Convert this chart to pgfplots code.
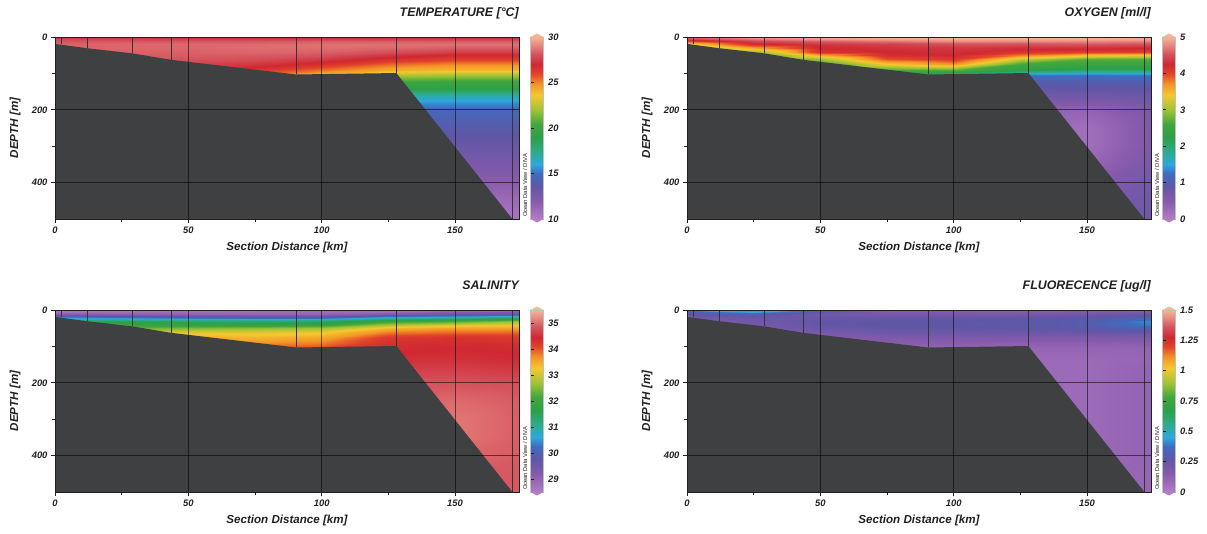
\documentclass[border=0pt]{standalone}
\usepackage{fontspec}
\setmainfont{Liberation Sans}
\usepackage{pgfplots}
\pgfplotsset{compat=1.18}
\pgfkeys{/pgf/number format/assume math mode=true}
\definecolor{bathy}{RGB}{63,64,66}
\definecolor{txt}{RGB}{35,31,32}
\definecolor{odvtop}{RGB}{246,182,146}
\definecolor{odvbot}{RGB}{178,125,198}
\pgfplotsset{
 colormap={odv}{rgb255(0pt)=(178,125,198) rgb255(10pt)=(135,90,172) rgb255(18pt)=(96,86,166) rgb255(25pt)=(62,108,192) rgb255(30pt)=(44,168,222) rgb255(37pt)=(44,172,140) rgb255(45pt)=(44,160,72) rgb255(52pt)=(64,166,62) rgb255(60pt)=(160,195,52) rgb255(68pt)=(244,200,48) rgb255(74pt)=(244,150,38) rgb255(80pt)=(226,66,42) rgb255(85pt)=(208,40,50) rgb255(91pt)=(214,86,96) rgb255(96pt)=(234,140,130) rgb255(100pt)=(246,182,146)},
 odv/.style={
  scale only axis, width=464pt, height=182pt, anchor=north west,
  xmin=0, xmax=174, ymin=0, ymax=500, y dir=reverse,
  xtick={0,50,100,150}, ytick={0,200,400},
  minor xtick={25,75,125}, minor ytick={100,300},
  xtick pos=bottom, ytick pos=left, tick align=outside,
  major tick length=4pt, minor tick length=3pt,
  tick style={txt, line width=0.6pt},
  grid=major, major grid style={black, opacity=0.55, line width=0.6pt},
  axis on top,
  axis line style={txt, line width=0.9pt},
  ticklabel style={font=\fontsize{9.4}{10}\selectfont\bfseries\itshape, text=txt},
  xlabel={Section Distance [km]}, ylabel={DEPTH [m]},
  label style={font=\fontsize{11.6}{13}\selectfont\bfseries\itshape, text=txt},
  xlabel style={at={(axis description cs:0.5,-0.159)}, anchor=center},
  ylabel style={at={(axis description cs:-0.086,0.5)}, anchor=center},
  title style={at={(axis description cs:1,1.077)}, anchor=base east, font=\fontsize{12.4}{14}\selectfont\bfseries\itshape, text=txt, inner sep=0pt},
  colormap name=odv, colorbar,
  colorbar style={
   at={(parent axis.north east)}, anchor=north west, xshift=3pt,
   scale only axis, width=13pt, height=182pt,
   xlabel={}, ylabel={}, title={}, grid=none, minor ytick={},
   axis on top,
   axis line style={black!25, line width=0.4pt},
   ytick pos=left, yticklabel pos=right,
   tick align=inside, major tick length=3.5pt, tick style={txt, line width=0.7pt},
   yticklabel style={font=\fontsize{9.4}{10}\selectfont\bfseries\itshape, text=txt, xshift=1pt},
   extra description/.code={
     \fill[odvtop] (0,1) -- (1,1) -- ++(-6.5pt,3.5pt) -- cycle;
     \fill[odvbot] (0,0) -- (1,0) -- ++(-6.5pt,-3.5pt) -- cycle;
   },
  },
  extra description/.code={\node[rotate=90, anchor=west, inner sep=0pt, font=\fontsize{5.8}{6}\selectfont, text=txt] at (1.013,0.01) {Ocean Data View / DIVA};},
 },
 field/.style={surf, shader=interp, point meta=explicit, mesh/cols=8, mesh/rows=22},
}
\newcommand{\bathy}{%
 \addplot[fill=bathy, draw=none] coordinates {(0,19) (12.2,31) (29,45) (43.8,63) (90.5,103) (128,99) (171.5,500) (171.5,505) (-1,505) (-1,19)} -- cycle;
 \addplot[ycomb, draw=bathy!80!black, line width=0.7pt, mark=none] coordinates {(2.2,20) (12.2,31) (29,45) (43.8,63) (90.5,103) (128,99) (171.5,500)};
}
\begin{document}
\begin{tikzpicture}
\path[use as bounding box] (0,0) rectangle (1207pt,534pt);
% ---------------- TEMPERATURE
\begin{axis}[odv, at={(55pt,497pt)}, title={TEMPERATURE [°C]},
  point meta min=10, point meta max=30, colorbar style={ytick={10,15,20,25,30}}]
\addplot[field] coordinates {
(0,0)[27.2] (25,0)[27.1] (50,0)[27.0] (75,0)[27.0] (100,0)[27.0] (125,0)[27.0] (150,0)[27.0] (175,0)[27.0]
(0,5)[27.8] (25,5)[27.7] (50,5)[27.6] (75,5)[27.6] (100,5)[27.6] (125,5)[27.6] (150,5)[27.6] (175,5)[27.6]
(0,10)[28.2] (25,10)[28.2] (50,10)[28.2] (75,10)[28.2] (100,10)[28.3] (125,10)[28.3] (150,10)[28.3] (175,10)[28.3]
(0,20)[28.4] (25,20)[28.5] (50,20)[28.5] (75,20)[28.6] (100,20)[28.7] (125,20)[28.7] (150,20)[28.7] (175,20)[28.7]
(0,30)[28.4] (25,30)[28.5] (50,30)[28.5] (75,30)[28.6] (100,30)[28.6] (125,30)[28.5] (150,30)[28.3] (175,30)[28.3]
(0,40)[28.3] (25,40)[28.4] (50,40)[28.4] (75,40)[28.5] (100,40)[28.4] (125,40)[28.0] (150,40)[27.6] (175,40)[27.6]
(0,50)[28.2] (25,50)[28.3] (50,50)[28.3] (75,50)[28.3] (100,50)[28.1] (125,50)[27.4] (150,50)[26.9] (175,50)[26.9]
(0,60)[28.1] (25,60)[28.2] (50,60)[28.1] (75,60)[28.0] (100,60)[27.5] (125,60)[26.7] (150,60)[26.2] (175,60)[26.2]
(0,75)[27.9] (25,75)[27.9] (50,75)[27.7] (75,75)[27.4] (100,75)[26.7] (125,75)[25.5] (150,75)[25.0] (175,75)[25.0]
(0,90)[27.6] (25,90)[27.5] (50,90)[27.2] (75,90)[26.5] (100,90)[25.3] (125,90)[24.3] (150,90)[24.0] (175,90)[24.0]
(0,105)[27.3] (25,105)[27.1] (50,105)[26.7] (75,105)[25.5] (100,105)[24.0] (125,105)[22.3] (150,105)[22.1] (175,105)[22.1]
(0,120)[27.0] (25,120)[26.6] (50,120)[26.0] (75,120)[24.5] (100,120)[22.5] (125,120)[20.5] (150,120)[20.3] (175,120)[20.3]
(0,140)[26.4] (25,140)[25.8] (50,140)[25.0] (75,140)[23.4] (100,140)[21.0] (125,140)[19.2] (150,140)[19.2] (175,140)[19.2]
(0,160)[25.6] (25,160)[24.8] (50,160)[23.8] (75,160)[22.0] (100,160)[19.0] (125,160)[17.0] (150,160)[17.0] (175,160)[17.0]
(0,180)[24.6] (25,180)[23.6] (50,180)[22.4] (75,180)[20.4] (100,180)[17.0] (125,180)[15.6] (150,180)[15.6] (175,180)[15.6]
(0,200)[23.4] (25,200)[22.2] (50,200)[20.8] (75,200)[18.6] (100,200)[15.4] (125,200)[14.7] (150,200)[14.7] (175,200)[14.7]
(0,250)[20.0] (25,250)[18.6] (50,250)[17.0] (75,250)[15.4] (100,250)[14.0] (125,250)[13.9] (150,250)[13.9] (175,250)[13.9]
(0,300)[16.0] (25,300)[15.0] (50,300)[14.2] (75,300)[13.6] (100,300)[13.3] (125,300)[13.2] (150,300)[13.2] (175,300)[13.2]
(0,350)[13.4] (25,350)[13.0] (50,350)[12.8] (75,350)[12.6] (100,350)[12.5] (125,350)[12.5] (150,350)[12.5] (175,350)[12.5]
(0,400)[12.0] (25,400)[11.9] (50,400)[11.8] (75,400)[11.8] (100,400)[11.8] (125,400)[11.8] (150,400)[11.8] (175,400)[11.8]
(0,450)[11.0] (25,450)[11.0] (50,450)[11.0] (75,450)[11.0] (100,450)[11.0] (125,450)[11.0] (150,450)[11.0] (175,450)[11.0]
(0,500)[10.5] (25,500)[10.5] (50,500)[10.5] (75,500)[10.5] (100,500)[10.5] (125,500)[10.5] (150,500)[10.5] (175,500)[10.5]
};
\bathy
\end{axis}
% ---------------- OXYGEN
\begin{axis}[odv, at={(687pt,497pt)}, title={OXYGEN [ml/l]},
  point meta min=0, point meta max=5, colorbar style={ytick={0,1,2,3,4,5}}]
\addplot[field] coordinates {
(0,0)[4.7] (25,0)[4.9] (50,0)[4.95] (75,0)[5.0] (100,0)[5.0] (125,0)[5.0] (150,0)[5.0] (175,0)[4.95]
(0,5)[4.4] (25,5)[4.7] (50,5)[4.85] (75,5)[4.9] (100,5)[4.95] (125,5)[4.95] (150,5)[4.95] (175,5)[4.9]
(0,10)[4.0] (25,10)[4.45] (50,10)[4.6] (75,10)[4.7] (100,10)[4.8] (125,10)[4.8] (150,10)[4.8] (175,10)[4.75]
(0,20)[3.3] (25,20)[4.2] (50,20)[4.35] (75,20)[4.4] (100,20)[4.5] (125,20)[4.5] (150,20)[4.55] (175,20)[4.5]
(0,30)[2.8] (25,30)[3.6] (50,30)[4.25] (75,30)[4.3] (100,30)[4.35] (125,30)[4.3] (150,30)[4.3] (175,30)[4.25]
(0,40)[2.5] (25,40)[2.9] (50,40)[4.15] (75,40)[4.25] (100,40)[4.3] (125,40)[4.1] (150,40)[4.05] (175,40)[4.0]
(0,50)[2.4] (25,50)[2.5] (50,50)[3.6] (75,50)[4.2] (100,50)[4.25] (125,50)[3.8] (150,50)[3.5] (175,50)[3.4]
(0,60)[2.3] (25,60)[2.4] (50,60)[3.0] (75,60)[3.95] (100,60)[4.1] (125,60)[3.2] (150,60)[2.7] (175,60)[2.7]
(0,75)[2.2] (25,75)[2.3] (50,75)[2.5] (75,75)[3.4] (100,75)[3.7] (125,75)[2.6] (150,75)[2.5] (175,75)[2.5]
(0,90)[2.0] (25,90)[2.1] (50,90)[2.3] (75,90)[2.6] (100,90)[2.7] (125,90)[2.3] (150,90)[2.1] (175,90)[2.1]
(0,105)[1.5] (25,105)[1.5] (50,105)[1.5] (75,105)[2.0] (100,105)[1.7] (125,105)[1.3] (150,105)[1.25] (175,105)[1.3]
(0,120)[1.0] (25,120)[1.0] (50,120)[1.0] (75,120)[1.1] (100,120)[1.1] (125,120)[1.0] (150,120)[1.05] (175,120)[1.05]
(0,140)[0.8] (25,140)[0.8] (50,140)[0.8] (75,140)[0.85] (100,140)[0.9] (125,140)[0.85] (150,140)[0.9] (175,140)[0.9]
(0,160)[0.7] (25,160)[0.7] (50,160)[0.7] (75,160)[0.7] (100,160)[0.75] (125,160)[0.7] (150,160)[0.75] (175,160)[0.8]
(0,180)[0.6] (25,180)[0.6] (50,180)[0.6] (75,180)[0.6] (100,180)[0.6] (125,180)[0.55] (150,180)[0.55] (175,180)[0.7]
(0,200)[0.5] (25,200)[0.5] (50,200)[0.5] (75,200)[0.5] (100,200)[0.5] (125,200)[0.4] (150,200)[0.35] (175,200)[0.65]
(0,250)[0.4] (25,250)[0.4] (50,250)[0.4] (75,250)[0.4] (100,250)[0.4] (125,250)[0.25] (150,250)[0.2] (175,250)[0.6]
(0,300)[0.4] (25,300)[0.4] (50,300)[0.4] (75,300)[0.4] (100,300)[0.4] (125,300)[0.25] (150,300)[0.2] (175,300)[0.6]
(0,350)[0.45] (25,350)[0.45] (50,350)[0.45] (75,350)[0.45] (100,350)[0.45] (125,350)[0.35] (150,350)[0.3] (175,350)[0.65]
(0,400)[0.5] (25,400)[0.5] (50,400)[0.5] (75,400)[0.5] (100,400)[0.5] (125,400)[0.5] (150,400)[0.5] (175,400)[0.7]
(0,450)[0.55] (25,450)[0.55] (50,450)[0.55] (75,450)[0.55] (100,450)[0.55] (125,450)[0.55] (150,450)[0.6] (175,450)[0.75]
(0,500)[0.6] (25,500)[0.6] (50,500)[0.6] (75,500)[0.6] (100,500)[0.6] (125,500)[0.6] (150,500)[0.65] (175,500)[0.75]
};
\bathy
\end{axis}
% ---------------- SALINITY
\begin{axis}[odv, at={(55pt,224pt)}, title={SALINITY},
  point meta min=28.5, point meta max=35.5, colorbar style={ytick={29,30,31,32,33,34,35}}]
\addplot[field] coordinates {
(0,0)[28.7] (25,0)[28.7] (50,0)[28.75] (75,0)[28.75] (100,0)[28.8] (125,0)[28.8] (150,0)[28.9] (175,0)[28.9]
(0,5)[28.8] (25,5)[28.8] (50,5)[28.85] (75,5)[28.85] (100,5)[28.85] (125,5)[28.9] (150,5)[29.2] (175,5)[29.3]
(0,10)[29.2] (25,10)[29.1] (50,10)[29.0] (75,10)[29.0] (100,10)[29.0] (125,10)[29.3] (150,10)[29.6] (175,10)[29.8]
(0,20)[30.4] (25,20)[30.2] (50,20)[30.0] (75,20)[29.9] (100,20)[29.9] (125,20)[30.6] (150,20)[30.8] (175,20)[31.2]
(0,30)[31.5] (25,30)[31.5] (50,30)[31.4] (75,30)[31.3] (100,30)[31.4] (125,30)[32.0] (150,30)[32.2] (175,30)[32.6]
(0,40)[32.0] (25,40)[32.0] (50,40)[31.9] (75,40)[31.9] (100,40)[32.0] (125,40)[32.8] (150,40)[33.1] (175,40)[33.2]
(0,50)[32.5] (25,50)[32.4] (50,50)[32.5] (75,50)[32.6] (100,50)[32.7] (125,50)[33.4] (150,50)[33.6] (175,50)[33.6]
(0,60)[33.0] (25,60)[32.9] (50,60)[33.1] (75,60)[33.1] (100,60)[33.2] (125,60)[33.8] (150,60)[33.9] (175,60)[33.9]
(0,75)[33.4] (25,75)[33.3] (50,75)[33.5] (75,75)[33.4] (100,75)[33.5] (125,75)[34.2] (150,75)[34.3] (175,75)[34.2]
(0,90)[33.8] (25,90)[33.7] (50,90)[33.8] (75,90)[33.7] (100,90)[33.8] (125,90)[34.35] (150,90)[34.4] (175,90)[34.35]
(0,105)[34.0] (25,105)[34.0] (50,105)[34.1] (75,105)[34.0] (100,105)[34.1] (125,105)[34.4] (150,105)[34.45] (175,105)[34.4]
(0,120)[34.2] (25,120)[34.2] (50,120)[34.3] (75,120)[34.3] (100,120)[34.3] (125,120)[34.45] (150,120)[34.5] (175,120)[34.45]
(0,140)[34.4] (25,140)[34.4] (50,140)[34.45] (75,140)[34.45] (100,140)[34.5] (125,140)[34.55] (150,140)[34.55] (175,140)[34.5]
(0,160)[34.5] (25,160)[34.5] (50,160)[34.55] (75,160)[34.6] (100,160)[34.6] (125,160)[34.65] (150,160)[34.65] (175,160)[34.6]
(0,180)[34.6] (25,180)[34.6] (50,180)[34.65] (75,180)[34.7] (100,180)[34.7] (125,180)[34.75] (150,180)[34.75] (175,180)[34.7]
(0,200)[34.7] (25,200)[34.7] (50,200)[34.75] (75,200)[34.8] (100,200)[34.8] (125,200)[34.85] (150,200)[34.85] (175,200)[34.8]
(0,250)[34.85] (25,250)[34.85] (50,250)[34.9] (75,250)[34.9] (100,250)[34.95] (125,250)[34.95] (150,250)[35.0] (175,250)[34.9]
(0,300)[34.9] (25,300)[34.9] (50,300)[34.95] (75,300)[34.95] (100,300)[35.0] (125,300)[35.0] (150,300)[35.08] (175,300)[34.92]
(0,350)[34.9] (25,350)[34.9] (50,350)[34.95] (75,350)[34.95] (100,350)[35.0] (125,350)[35.0] (150,350)[35.08] (175,350)[34.92]
(0,400)[34.9] (25,400)[34.9] (50,400)[34.9] (75,400)[34.9] (100,400)[34.95] (125,400)[34.95] (150,400)[35.0] (175,400)[34.9]
(0,450)[34.88] (25,450)[34.88] (50,450)[34.88] (75,450)[34.88] (100,450)[34.9] (125,450)[34.9] (150,450)[34.9] (175,450)[34.88]
(0,500)[34.88] (25,500)[34.88] (50,500)[34.88] (75,500)[34.88] (100,500)[34.88] (125,500)[34.88] (150,500)[34.88] (175,500)[34.88]
};
\bathy
\end{axis}
% ---------------- FLUORESCENCE
\begin{axis}[odv, at={(687pt,224pt)}, title={FLUORECENCE [ug/l]},
  point meta min=0, point meta max=1.5, colorbar style={ytick={0,0.25,0.5,0.75,1,1.25,1.5}}]
\addplot[field] coordinates {
(0,0)[0.35] (25,0)[0.65] (50,0)[0.35] (75,0)[0.17] (100,0)[0.16] (125,0)[0.16] (150,0)[0.16] (175,0)[0.16]
(0,5)[0.3] (25,5)[0.45] (50,5)[0.26] (75,5)[0.18] (100,5)[0.17] (125,5)[0.17] (150,5)[0.18] (175,5)[0.2]
(0,10)[0.27] (25,10)[0.3] (50,10)[0.22] (75,10)[0.2] (100,10)[0.2] (125,10)[0.2] (150,10)[0.22] (175,10)[0.25]
(0,20)[0.22] (25,20)[0.25] (50,20)[0.24] (75,20)[0.25] (100,20)[0.25] (125,20)[0.26] (150,20)[0.27] (175,20)[0.32]
(0,30)[0.18] (25,30)[0.22] (50,30)[0.26] (75,30)[0.27] (100,30)[0.27] (125,30)[0.28] (150,30)[0.3] (175,30)[0.42]
(0,40)[0.15] (25,40)[0.2] (50,40)[0.26] (75,40)[0.27] (100,40)[0.27] (125,40)[0.28] (150,40)[0.3] (175,40)[0.4]
(0,50)[0.13] (25,50)[0.18] (50,50)[0.24] (75,50)[0.26] (100,50)[0.26] (125,50)[0.27] (150,50)[0.28] (175,50)[0.32]
(0,60)[0.12] (25,60)[0.15] (50,60)[0.2] (75,60)[0.23] (100,60)[0.23] (125,60)[0.24] (150,60)[0.24] (175,60)[0.26]
(0,75)[0.1] (25,75)[0.12] (50,75)[0.15] (75,75)[0.18] (100,75)[0.18] (125,75)[0.18] (150,75)[0.18] (175,75)[0.19]
(0,90)[0.09] (25,90)[0.1] (50,90)[0.12] (75,90)[0.14] (100,90)[0.14] (125,90)[0.13] (150,90)[0.13] (175,90)[0.14]
(0,105)[0.08] (25,105)[0.09] (50,105)[0.1] (75,105)[0.1] (100,105)[0.1] (125,105)[0.1] (150,105)[0.1] (175,105)[0.11]
(0,120)[0.08] (25,120)[0.08] (50,120)[0.08] (75,120)[0.08] (100,120)[0.09] (125,120)[0.09] (150,120)[0.09] (175,120)[0.1]
(0,140)[0.08] (25,140)[0.08] (50,140)[0.08] (75,140)[0.08] (100,140)[0.08] (125,140)[0.08] (150,140)[0.08] (175,140)[0.1]
(0,160)[0.08] (25,160)[0.08] (50,160)[0.08] (75,160)[0.08] (100,160)[0.08] (125,160)[0.08] (150,160)[0.08] (175,160)[0.11]
(0,180)[0.08] (25,180)[0.08] (50,180)[0.08] (75,180)[0.08] (100,180)[0.08] (125,180)[0.08] (150,180)[0.08] (175,180)[0.11]
(0,200)[0.08] (25,200)[0.08] (50,200)[0.08] (75,200)[0.08] (100,200)[0.08] (125,200)[0.08] (150,200)[0.08] (175,200)[0.11]
(0,250)[0.08] (25,250)[0.08] (50,250)[0.08] (75,250)[0.08] (100,250)[0.08] (125,250)[0.08] (150,250)[0.08] (175,250)[0.11]
(0,300)[0.08] (25,300)[0.08] (50,300)[0.08] (75,300)[0.08] (100,300)[0.08] (125,300)[0.08] (150,300)[0.08] (175,300)[0.11]
(0,350)[0.08] (25,350)[0.08] (50,350)[0.08] (75,350)[0.08] (100,350)[0.08] (125,350)[0.08] (150,350)[0.08] (175,350)[0.11]
(0,400)[0.08] (25,400)[0.08] (50,400)[0.08] (75,400)[0.08] (100,400)[0.08] (125,400)[0.08] (150,400)[0.08] (175,400)[0.11]
(0,450)[0.08] (25,450)[0.08] (50,450)[0.08] (75,450)[0.08] (100,450)[0.08] (125,450)[0.08] (150,450)[0.08] (175,450)[0.1]
(0,500)[0.08] (25,500)[0.08] (50,500)[0.08] (75,500)[0.08] (100,500)[0.08] (125,500)[0.08] (150,500)[0.08] (175,500)[0.1]
};
\bathy
\end{axis}
\end{tikzpicture}
\end{document}
